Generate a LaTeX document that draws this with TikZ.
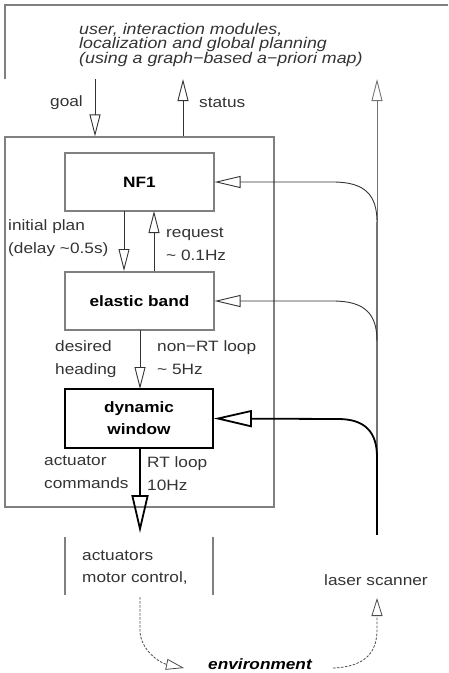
\documentclass[tikz,border=0pt]{standalone}
\usepackage{fontspec}
\setmainfont{Liberation Sans}[FakeStretch=1.15]
\usetikzlibrary{arrows.meta}
\definecolor{lg}{gray}{0.5}
\definecolor{tx}{gray}{0.2}
\tikzset{
  frameline/.style={draw=lg, line width=1.2pt},
  blockbox/.style={draw=lg, line width=1.2pt, minimum width=149pt, minimum height=58pt, font=\fontsize{15}{17}\selectfont\bfseries, inner sep=0pt},
  dynbox/.style={draw=black, line width=1.8pt, minimum width=148pt, minimum height=59pt, font=\fontsize{15}{22}\selectfont\bfseries, align=center, inner sep=0pt},
  lbl/.style={text=tx, font=\fontsize{15}{23}\selectfont, align=left, inner sep=0pt},
  thinarrow/.style={draw=black!80, line width=0.9pt, -{Triangle[open, length=22pt, width=11pt]}},
  sidearrow/.style={draw=black!80, line width=0.9pt, -{Triangle[open, length=26pt, width=12pt]}},
  bigarrow/.style={draw=black, line width=1.8pt, -{Triangle[open, length=38pt, width=17pt]}},
  dasharrow/.style={draw=black!70, line width=0.8pt, dashed, dash pattern=on 2.5pt off 1.5pt, -{Triangle[open, length=18pt, width=11pt]}}
}
\begin{document}
\begin{tikzpicture}[x=1pt,y=1pt]
\useasboundingbox (0,0) rectangle (448,-673);
% top frame
\draw[frameline] (5,-79) -- (5,-5) -- (448,-5);
\node[lbl, anchor=north west, font=\fontsize{15.5}{14}\selectfont\itshape, text=tx] (usr) at (79,-23)
  {user, interaction modules,\\localization and global planning\\(using a graph\textminus based a\textminus priori map)};
% outer box
\node[draw=lg, line width=1.2pt, minimum width=269pt, minimum height=370pt, inner sep=0pt] (ctrl) at (139.5,-322) {};
% blocks
\node[blockbox] (nf) at (139.5,-182) {NF1};
\node[blockbox] (eb) at (139.5,-301) {elastic band};
\node[dynbox] (dw) at (139,-418.5) {dynamic\\window};
% goal / status
\coordinate (goaltop) at (95,-79);
\coordinate (stattop) at (183,-79);
\coordinate (lasertop) at (377,-79);
\draw[thinarrow] (goaltop) -- (goaltop |- ctrl.north);
\draw[thinarrow] (stattop |- ctrl.north) -- (stattop);
\node[lbl, anchor=east] (goal) at (83,-103) {goal};
\node[lbl, anchor=west] (status) at (199,-103) {status};
% internal arrows
\draw[thinarrow] (124,-211) -- (124,-271);
\draw[thinarrow] (154,-271) -- (154,-211);
\node[lbl, anchor=north west] (ip) at (8,-219) {initial plan\\(delay \textasciitilde0.5s)};
\node[lbl, anchor=north west] (rq) at (166,-228) {request\\\textasciitilde\ 0.1Hz};
\draw[thinarrow] (140,-330) -- (140,-389);
\node[lbl, anchor=north west] (dh) at (55,-340) {desired\\heading};
\node[lbl, anchor=north west] (nrt) at (157,-340) {non\textminus RT loop\\\textasciitilde\ 5Hz};
\draw[bigarrow] (140,-448) -- (140,-533);
\node[lbl, anchor=north west] (ac) at (44,-456) {actuator\\commands};
\node[lbl, anchor=north west] (rt) at (147,-456) {RT loop\\10Hz};
% bottom
\node[lbl, anchor=north west, font=\fontsize{15}{22}\selectfont] (act) at (82,-551) {actuators\\motor control,};
\draw[frameline] (65,-537) -- (65,-595);
\draw[frameline] (213,-537) -- (213,-595);
\node[lbl] (laser) at (376,-580) {laser scanner};
\node[text=black, font=\fontsize{15}{17}\selectfont\bfseries\itshape, inner sep=0pt] (env) at (260,-664) {environment};
% right feedback line
\coordinate (lb) at (377,-535);
\coordinate (lm) at (377,-457);
\coordinate (lu) at (377,-222);
\draw[draw=black!55, line width=1.1pt] (lm) -- (lu);
\draw[thinarrow, draw=black!55] (lu) -- (lasertop);
\draw[draw=black, line width=1.8pt] (lb) -- (lm);
\draw[sidearrow] (lu) .. controls (377,-195) and (365,-182) .. (333,-182) -- (nf.east);
\draw[sidearrow] (377,-341) .. controls (377,-314) and (365,-301) .. (333,-301) -- (eb.east);
\draw[bigarrow] (lm) .. controls (377,-432) and (365,-419) .. (338,-419) -- (dw.east);
% environment loop
\coordinate (ab) at (140,-597);
\draw[dasharrow] (ab) -- (140,-630) .. controls (140,-650) and (160,-663) .. (184,-668);
\draw[dasharrow] (333,-668) .. controls (362,-667) and (377,-655) .. (377,-630) -- (377,-598);
\end{tikzpicture}
\end{document}
